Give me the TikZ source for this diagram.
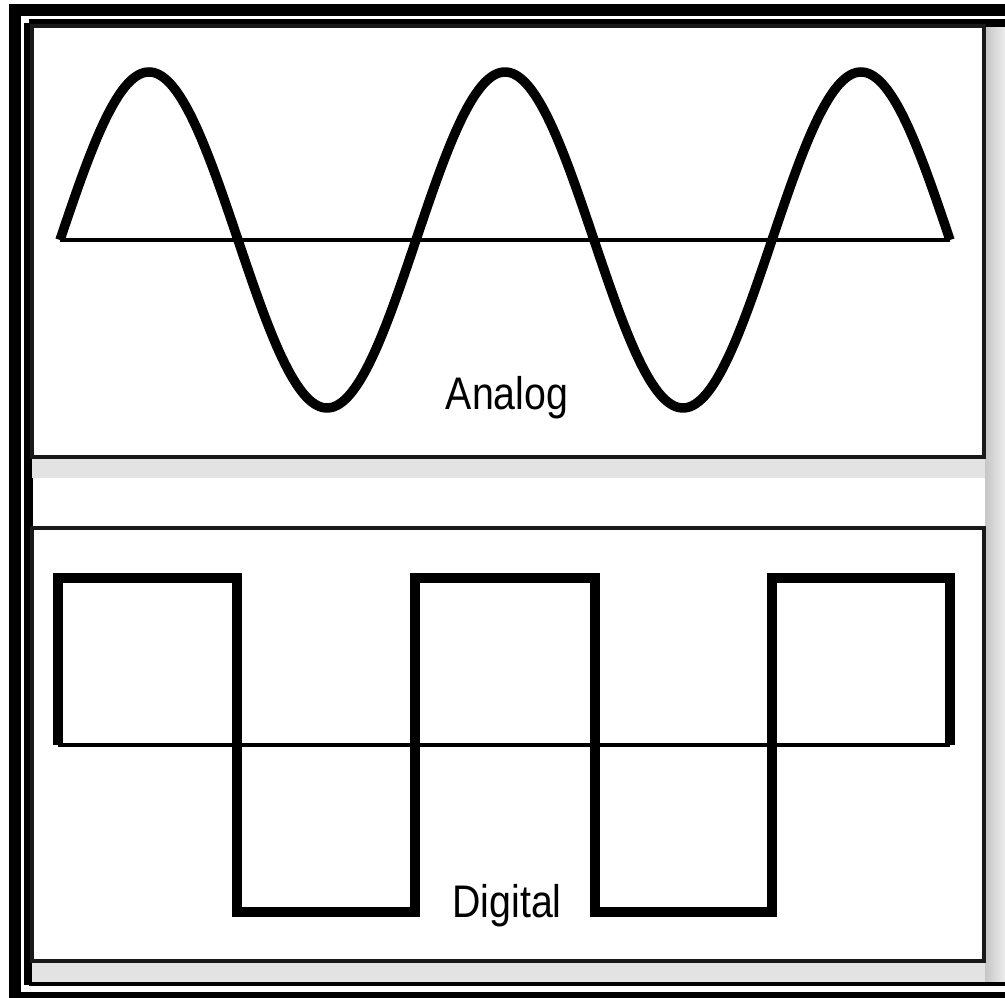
\documentclass[tikz,border=0pt]{standalone}
\usepackage{fontspec}
\setmainfont{Liberation Sans}
\usetikzlibrary{positioning}

\begin{document}
\begin{tikzpicture}[
    x=0.01cm, y=-0.01cm,
    frame/.style={draw=black, line width=0.12cm},
    panelbox/.style={draw=black!90, line width=0.04cm, fill=white},
    axisline/.style={draw=black, line width=0.045cm},
    wave/.style={draw=black, line width=0.095cm, line join=miter},
    label/.style={font=\fontsize{13}{15}\selectfont, inner sep=0pt}
]
\useasboundingbox (0,0) rectangle (1005,998);
\begin{scope}
\clip (0,0) rectangle (1005,998);

% Frames
\draw [frame] (15,10) rectangle (1030,998);
\draw [frame, line width=0.095cm] (28.5,23.5) -- (1030,23.5);
\draw [frame, line width=0.095cm] (28.5,23.5) -- (28.5,985);
\draw [frame, line width=0.045cm] (28.5,984) -- (1030,984);

% Grey strips
\fill [gray!22] (32,458) rectangle (985,478);
\fill [gray!22] (32,963) rectangle (985,982);
\shade [left color=gray!45, right color=gray!15] (985,28) rectangle (1005,982);

% Panels
\draw [panelbox] (32,26) rectangle (983.5,457);
\draw [panelbox] (32,528.5) rectangle (983.5,961.5);

% Analog
\draw [axisline] (60,240) -- (950,240);
\draw [wave, smooth, samples=200, domain=60:950]
    plot (\x, {240 - 168*sin(1.01124*(\x-60))});

% Digital
\draw [axisline] (58,745) -- (950,745);
\draw [wave] (58,745) -- (58,578) -- (237,578) -- (237,912) -- (415,912)
    -- (415,578) -- (595,578) -- (595,912) -- (772,912) -- (772,578)
    -- (950,578) -- (950,745);

% Labels
\node (analog) [label, anchor=base] at (507,410) {\scalebox{0.86}[1]{Analog}};
\node (digital) [label, anchor=base] at (507,918) {\scalebox{0.86}[1]{Digital}};

\end{scope}
\end{tikzpicture}
\end{document}
